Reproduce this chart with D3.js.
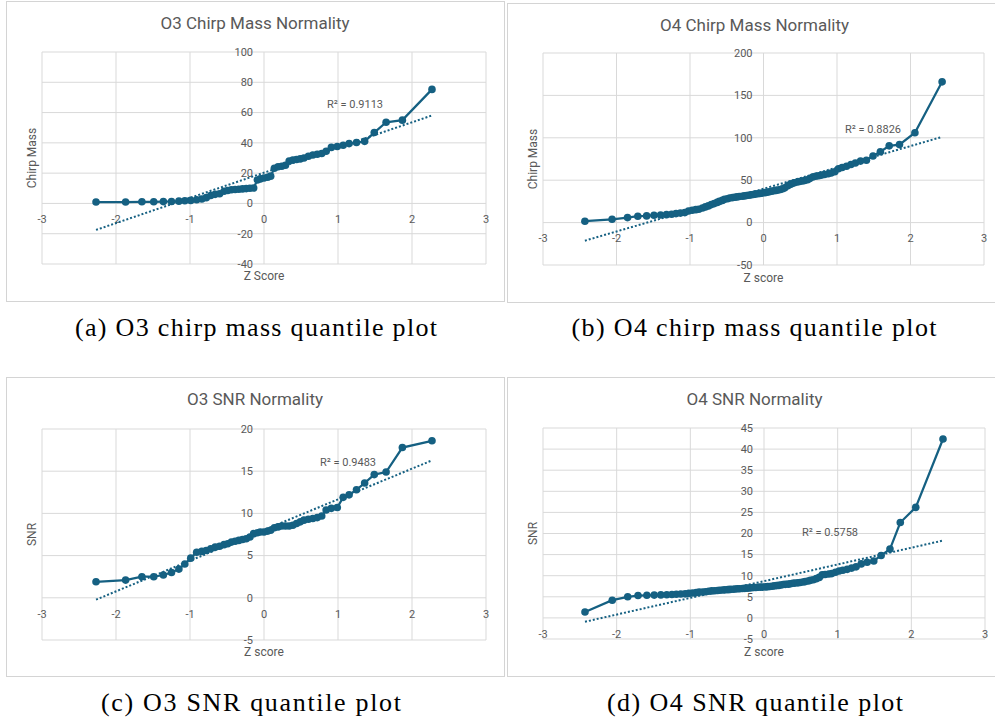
<!DOCTYPE html>
<html>
<head>
<meta charset="utf-8">
<script src="https://cdn.jsdelivr.net/npm/d3@7"></script>
<style>
  body { margin: 0; background: #fff; }
  svg { display: block; }
  .cap { font-family: "Liberation Serif", "Times New Roman", Tinos, serif; font-size: 26px; }
</style>
</head>
<body>
<svg id="fig" width="995" height="723"></svg>
<script>
// theoretical quantiles (z)
const zO3 = [-2.27,-1.87,-1.65,-1.49,-1.36,-1.25,-1.15,-1.07,-0.99,-0.91,-0.84,-0.78,-0.72,-0.66,-0.60,-0.54,-0.49,-0.44,-0.39,-0.34,-0.29,-0.24,-0.19,-0.14,-0.09,-0.05,0,
  0.05,0.09,0.14,0.19,0.24,0.29,0.34,0.39,0.44,0.49,0.54,0.60,0.66,0.72,0.78,0.84,0.91,0.99,1.07,1.15,1.25,1.36,1.49,1.65,1.87,2.27];
const zO4 = [-2.43,-2.06,-1.85,-1.71,-1.59,-1.49,-1.40,-1.32,-1.25,-1.19,-1.13,-1.07,-1.02,-0.97,-0.92,-0.88,-0.83,-0.79,-0.75,-0.71,-0.67,-0.63,-0.60,-0.56,-0.53,-0.49,-0.46,-0.42,-0.39,-0.36,-0.33,-0.29,-0.26,-0.23,-0.20,-0.17,-0.14,-0.11,-0.08,-0.05,-0.02,
  0.02,0.05,0.08,0.11,0.14,0.17,0.20,0.23,0.26,0.29,0.33,0.36,0.39,0.42,0.46,0.49,0.53,0.56,0.60,0.63,0.67,0.71,0.75,0.79,0.83,0.88,0.92,0.97,1.02,1.07,1.13,1.19,1.25,1.32,1.40,1.49,1.59,1.71,1.85,2.06,2.43];

// sorted sample values
const o3ChirpMass = [0.9,0.9,1.1,1.1,1.2,1.3,1.5,1.8,2.0,2.4,2.9,3.8,5.2,6.0,6.4,8.0,8.5,9.0,9.2,9.4,9.6,9.8,10.0,10.2,15.5,16.2,16.8,
  17.3,18.0,23.2,24.2,24.6,25.2,28.0,28.6,29.0,29.4,30.0,31.2,32.0,32.5,33.0,34.5,37.0,37.6,38.4,39.5,40.2,41.0,46.8,53.6,55.0,75.3];
const o4ChirpMass = [1.6,3.9,5.9,7.5,7.9,8.7,9.0,9.4,9.8,10.6,11.2,11.8,13.6,14.6,15.3,15.8,17.2,18.5,19.7,21.2,22.4,23.8,25.0,26.2,27.4,28.2,29.0,29.5,29.9,30.3,30.7,31.1,31.5,31.9,32.3,32.7,33.2,33.6,34.0,34.4,34.8,
  35.3,35.8,36.3,37.0,37.6,38.0,38.5,39.0,40.0,41.0,43.5,45.0,46.0,47.0,47.8,48.4,49.0,49.6,50.5,52.0,53.8,54.6,55.2,56.0,56.8,57.6,58.5,60.0,63.5,65.0,66.5,68.5,70.2,72.5,73.6,78.5,83.5,90.5,92.0,106.0,166.0];
const o3Snr = [1.9,2.1,2.5,2.5,2.7,3.0,3.4,4.0,4.7,5.4,5.5,5.6,5.8,6.0,6.1,6.3,6.4,6.6,6.7,6.8,6.9,7.0,7.2,7.6,7.7,7.8,7.8,
  7.9,8.0,8.3,8.4,8.5,8.5,8.5,8.6,8.8,9.0,9.2,9.3,9.4,9.5,9.7,10.4,10.6,10.7,11.9,12.2,12.8,13.6,14.6,14.9,17.8,18.6];
const o4Snr = [1.4,4.2,5.0,5.3,5.35,5.4,5.45,5.5,5.55,5.6,5.65,5.7,5.8,5.9,6.0,6.1,6.15,6.2,6.3,6.4,6.45,6.5,6.55,6.6,6.65,6.7,6.75,6.8,6.85,6.9,6.9,6.95,7.0,7.05,7.1,7.15,7.2,7.2,7.25,7.3,7.3,
  7.35,7.4,7.45,7.5,7.6,7.65,7.7,7.8,7.9,7.95,8.0,8.1,8.2,8.25,8.3,8.4,8.5,8.6,8.75,8.9,9.05,9.3,9.6,10.2,10.3,10.4,10.5,10.8,11.1,11.3,11.5,11.8,12.1,12.8,13.2,13.5,14.8,16.3,22.6,26.2,42.4];

const xTicks = [-3,-2,-1,0,1,2,3];
const yTicksA = [-40,-20,0,20,40,60,80,100];
const yTicksB = [-50,0,50,100,150,200];
const yTicksC = [-5,0,5,10,15,20];
const yTicksD = [-5,0,5,10,15,20,25,30,35,40,45];

const titles = ["O3 Chirp Mass Normality","O4 Chirp Mass Normality","O3 SNR Normality","O4 SNR Normality"];
const yTitles = ["Chirp Mass","Chirp Mass","SNR","SNR"];
const xTitles = ["Z Score","Z score","Z score","Z score"];
const r2Values = ["0.9113","0.8826","0.9483","0.5758"];
const captions = ["(a) O3 chirp mass quantile plot","(b) O4 chirp mass quantile plot","(c) O3 SNR quantile plot","(d) O4 SNR quantile plot"];

// page layout (pixels)
const layout = [
  {box:[6,1,498,300],   plot:[42,486,52,264],  r2:[355,104], cap:[256,336,362]},
  {box:[507,3,495,299], plot:[543,984,53,265], r2:[873,129], cap:[754,336,365]},
  {box:[6,377,498,299], plot:[42,486,429,640], r2:[348,462], cap:[251,711,300]},
  {box:[507,377,495,299], plot:[543,985,428,639], r2:[830,532], cap:[755,711,296]}
];

const panels = [
  {z:zO3, v:o3ChirpMass, yTicks:yTicksA},
  {z:zO4, v:o4ChirpMass, yTicks:yTicksB},
  {z:zO3, v:o3Snr, yTicks:yTicksC},
  {z:zO4, v:o4Snr, yTicks:yTicksD}
];

const blue = "#156082";
const grey = "#595959";
const font = "Roboto, 'Open Sans', sans-serif";

const svg = d3.select("#fig");

panels.forEach(function(p, i) {
  const L = layout[i];
  const g = svg.append("g").attr("class", "panel");

  g.append("rect")
    .attr("x", L.box[0] + 0.5).attr("y", L.box[1] + 0.5)
    .attr("width", L.box[2]).attr("height", L.box[3])
    .attr("fill", "#fff").attr("stroke", "#d4d4d4");

  const x = d3.scaleLinear().domain([-3, 3]).range([L.plot[0], L.plot[1]]);
  const y = d3.scaleLinear().domain(d3.extent(p.yTicks)).range([L.plot[3], L.plot[2]]);

  // gridlines
  g.selectAll(".vg").data(xTicks).join("line")
    .attr("x1", d => x(d)).attr("x2", d => x(d))
    .attr("y1", L.plot[2]).attr("y2", L.plot[3])
    .attr("stroke", "#d9d9d9").attr("stroke-width", 1);
  g.selectAll(".hg").data(p.yTicks).join("line")
    .attr("x1", L.plot[0]).attr("x2", L.plot[1])
    .attr("y1", d => y(d)).attr("y2", d => y(d))
    .attr("stroke", "#d9d9d9").attr("stroke-width", 1);

  // tick labels (axes cross at 0)
  g.selectAll(".yl").data(p.yTicks).join("text")
    .attr("x", x(0) - 11).attr("y", d => y(d)).attr("dy", "0.35em")
    .attr("text-anchor", "end")
    .style("font", "11px " + font).attr("fill", grey)
    .text(d => String(d));
  g.selectAll(".xl").data(xTicks).join("text")
    .attr("x", d => x(d)).attr("y", y(0) + 16).attr("dy", "0.35em")
    .attr("text-anchor", "middle")
    .style("font", "11px " + font).attr("fill", grey)
    .text(d => String(d));

  // titles
  g.append("text")
    .attr("x", L.box[0] + L.box[2] / 2).attr("y", L.box[1] + 22).attr("dy", "0.35em")
    .attr("text-anchor", "middle")
    .style("font", "17px " + font).attr("fill", grey)
    .text(titles[i]);
  g.append("text")
    .attr("x", (L.plot[0] + L.plot[1]) / 2).attr("y", L.box[1] + 275).attr("dy", "0.35em")
    .attr("text-anchor", "middle")
    .style("font", "12px " + font).attr("fill", grey)
    .text(xTitles[i]);
  g.append("text")
    .attr("transform", "translate(" + (L.box[0] + 26) + "," + ((L.plot[2] + L.plot[3]) / 2) + ") rotate(-90)")
    .attr("dy", "0.35em")
    .attr("text-anchor", "middle")
    .style("font", "12px " + font).attr("fill", grey)
    .text(yTitles[i]);

  const pts = p.z.map((z, k) => ({z: z, v: p.v[k]}));

  // series
  const line = d3.line().x(d => x(d.z)).y(d => y(d.v));
  g.append("path").datum(pts)
    .attr("fill", "none").attr("stroke", blue).attr("stroke-width", 2.25)
    .attr("d", line);
  g.selectAll(".pt").data(pts).join("circle")
    .attr("cx", d => x(d.z)).attr("cy", d => y(d.v)).attr("r", 3.8)
    .attr("fill", blue);

  // linear trendline (least squares)
  const mz = d3.mean(pts, d => d.z), mv = d3.mean(pts, d => d.v);
  const sxy = d3.sum(pts, d => (d.z - mz) * (d.v - mv));
  const sxx = d3.sum(pts, d => (d.z - mz) * (d.z - mz));
  const slope = sxy / sxx, icpt = mv - slope * mz;
  const zr = d3.extent(pts, d => d.z);
  g.append("path").datum(zr.map(z => ({z: z, v: icpt + slope * z})))
    .attr("fill", "none").attr("stroke", blue).attr("stroke-width", 2)
    .attr("stroke-dasharray", "2,2")
    .attr("d", line);

  g.append("text")
    .attr("x", L.r2[0]).attr("y", L.r2[1]).attr("dy", "0.35em")
    .attr("text-anchor", "middle")
    .style("font", "11px " + font).attr("fill", grey)
    .text("R\u00B2 = " + r2Values[i]);

  // caption
  svg.append("text")
    .attr("class", "cap")
    .attr("x", L.cap[0]).attr("y", L.cap[1])
    .attr("text-anchor", "middle")
    .attr("textLength", L.cap[2]).attr("lengthAdjust", "spacing")
    .attr("fill", "#000")
    .text(captions[i]);
});
</script>
</body>
</html>
